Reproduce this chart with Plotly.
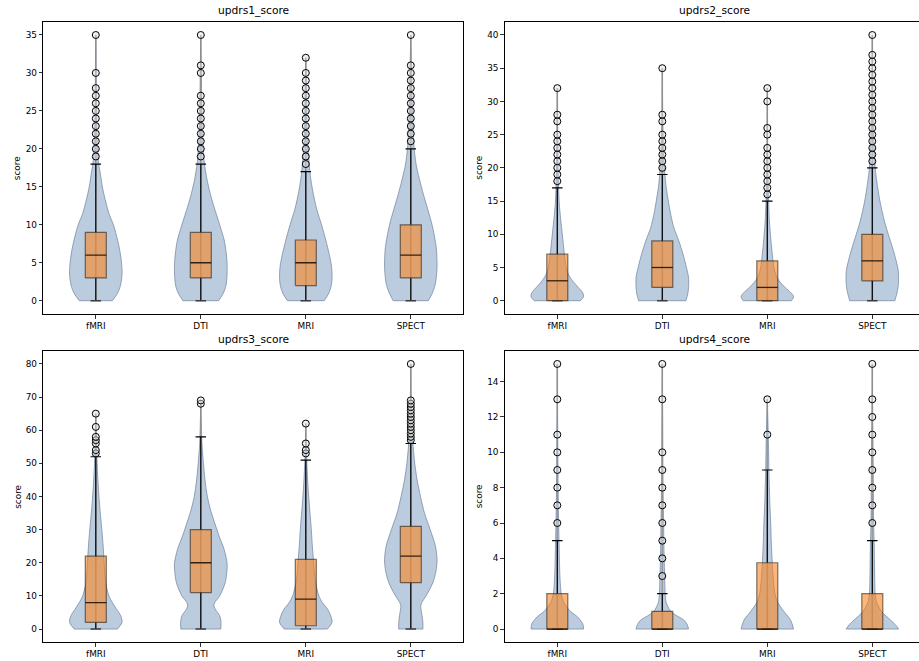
import plotly.graph_objects as go

# ---------------- data ----------------
MODALITIES = ["fMRI", "DTI", "MRI", "SPECT"]
SCORES = ["updrs1_score", "updrs2_score", "updrs3_score", "updrs4_score"]
POSITIONS = [1, 2, 3, 4]

# box statistics per modality (fMRI, DTI, MRI, SPECT)
updrs1_q1 = [3, 3, 2, 3]
updrs1_med = [6, 5, 5, 6]
updrs1_q3 = [9, 9, 8, 10]
updrs1_lo = [0, 0, 0, 0]
updrs1_hi = [18, 18, 17, 20]
updrs1_out = [
    [19, 20, 21, 22, 23, 24, 25, 26, 27, 28, 30, 35],
    [19, 20, 21, 22, 23, 24, 25, 26, 27, 30, 31, 35],
    [18, 19, 20, 21, 22, 23, 24, 25, 26, 27, 28, 29, 30, 32],
    [21, 22, 23, 24, 25, 26, 27, 28, 29, 30, 31, 35],
]

updrs2_q1 = [0, 2, 0, 3]
updrs2_med = [3, 5, 2, 6]
updrs2_q3 = [7, 9, 6, 10]
updrs2_lo = [0, 0, 0, 0]
updrs2_hi = [17, 19, 15, 20]
updrs2_out = [
    [18, 19, 20, 21, 22, 23, 24, 25, 27, 28, 32],
    [20, 21, 22, 23, 24, 25, 27, 28, 35],
    [16, 17, 18, 19, 20, 21, 22, 23, 25, 26, 30, 32],
    [21, 22, 23, 24, 25, 26, 27, 28, 29, 30, 31, 32, 33, 34, 35, 36, 37, 40],
]

updrs3_q1 = [2, 11, 1, 14]
updrs3_med = [8, 20, 9, 22]
updrs3_q3 = [22, 30, 21, 31]
updrs3_lo = [0, 0, 0, 0]
updrs3_hi = [52, 58, 51, 56]
updrs3_out = [
    [53, 54, 56, 57, 58, 61, 65],
    [68, 69],
    [53, 54, 56, 62],
    [57, 58, 59, 60, 61, 62, 63, 64, 65, 66, 67, 68, 69, 80],
]

updrs4_q1 = [0, 0, 0, 0]
updrs4_med = [0, 0, 0, 0]
updrs4_q3 = [2, 1, 3.75, 2]
updrs4_lo = [0, 0, 0, 0]
updrs4_hi = [5, 2, 9, 5]
updrs4_out = [
    [6, 7, 8, 9, 10, 11, 13, 15],
    [3, 4, 5, 6, 7, 8, 9, 10, 13, 15],
    [11, 13],
    [6, 7, 8, 9, 10, 11, 12, 13, 15],
]

# violin density profiles (relative width)
updrs1_kde_y = [
    [0, 1, 2, 3.5, 5, 6.5, 8, 10, 11.5, 13.3, 15, 16.8, 18, 20, 22, 25, 28, 31, 35],
    [0, 1, 2, 3.5, 5, 6.5, 8, 10, 12.4, 14.1, 15.9, 18, 20, 22, 25, 28, 31, 35],
    [0, 1, 2, 3, 4.5, 6, 8, 10, 12, 14, 16, 18, 20, 22, 25, 28, 32],
    [0, 1, 2, 3, 4.5, 6, 7, 8.5, 10, 12, 14, 16, 18, 20, 22, 25, 28, 31, 35],
]
updrs1_kde_w = [
    [0.63, 0.83, 0.94, 1.0, 0.98, 0.92, 0.83, 0.67, 0.5, 0.36, 0.25, 0.17, 0.11, 0.07, 0.045, 0.03, 0.02, 0.012, 0],
    [0.68, 0.86, 0.96, 1.0, 1.0, 0.96, 0.89, 0.72, 0.5, 0.36, 0.24, 0.14, 0.09, 0.06, 0.04, 0.028, 0.018, 0],
    [0.7, 0.88, 0.97, 1.0, 0.98, 0.9, 0.76, 0.6, 0.42, 0.29, 0.19, 0.13, 0.08, 0.05, 0.035, 0.025, 0],
    [0.67, 0.82, 0.92, 0.97, 1.0, 0.99, 0.97, 0.9, 0.81, 0.65, 0.48, 0.33, 0.2, 0.13, 0.09, 0.06, 0.04, 0.025, 0],
]

updrs2_kde_y = [
    [0, 0.6, 1.2, 2, 3, 4, 5, 7, 10, 13, 15, 17, 20, 25, 32],
    [0, 1, 2, 3.5, 5, 7, 9, 11, 13, 15, 17, 19, 22, 25, 28, 35],
    [0, 0.6, 1.2, 2, 3, 4, 5, 7, 9, 12, 15, 20, 25, 32],
    [0, 1, 2, 3, 4.5, 6, 8, 10, 12, 15, 18, 20, 25, 30, 35, 40],
]
updrs2_kde_w = [
    [0.88, 1.0, 0.97, 0.8, 0.58, 0.42, 0.34, 0.27, 0.19, 0.11, 0.07, 0.05, 0.03, 0.015, 0],
    [0.9, 0.97, 1.0, 1.0, 0.92, 0.79, 0.63, 0.44, 0.32, 0.23, 0.15, 0.1, 0.05, 0.03, 0.015, 0],
    [0.92, 1.0, 0.9, 0.68, 0.45, 0.32, 0.25, 0.19, 0.14, 0.08, 0.05, 0.02, 0.01, 0],
    [0.86, 0.93, 0.98, 1.0, 0.99, 0.91, 0.77, 0.61, 0.46, 0.29, 0.17, 0.11, 0.05, 0.025, 0.01, 0],
]

updrs3_kde_y = [
    [0, 2, 4, 6, 8, 10, 13, 16, 20, 25, 30, 35, 40, 45, 50, 55, 60, 65],
    [0, 2, 4, 6, 7, 8, 10, 14, 18, 20, 24, 28, 32, 36, 40, 45, 50, 55, 60, 65, 69],
    [0, 2, 4, 6, 8, 10, 13, 16, 20, 25, 30, 35, 40, 45, 50, 55, 62],
    [0, 2, 4, 6, 7, 8, 10, 14, 18, 21, 25, 30, 35, 40, 45, 50, 55, 60, 65, 70, 80],
]
updrs3_kde_w = [
    [0.82, 1.0, 0.95, 0.79, 0.63, 0.5, 0.4, 0.35, 0.32, 0.28, 0.23, 0.17, 0.12, 0.08, 0.05, 0.03, 0.015, 0],
    [0.76, 0.77, 0.72, 0.55, 0.5, 0.53, 0.72, 0.93, 1.0, 1.0, 0.89, 0.7, 0.53, 0.37, 0.25, 0.16, 0.1, 0.05, 0.025, 0.01, 0],
    [0.82, 1.0, 0.95, 0.83, 0.63, 0.5, 0.4, 0.34, 0.3, 0.25, 0.21, 0.16, 0.11, 0.07, 0.04, 0.02, 0],
    [0.46, 0.46, 0.43, 0.39, 0.38, 0.42, 0.58, 0.84, 0.97, 1.0, 0.94, 0.74, 0.52, 0.37, 0.24, 0.15, 0.09, 0.05, 0.03, 0.015, 0],
]

updrs4_kde_y = [
    [0, 0.3, 0.7, 1, 1.5, 2, 3, 4, 5, 6, 8, 10, 12, 15],
    [0, 0.25, 0.5, 0.8, 1, 1.5, 2, 3, 4, 6, 8, 10, 13, 15],
    [0, 0.5, 1, 1.5, 2, 3, 4, 5, 6, 7, 8, 9, 10, 11, 13],
    [0, 0.25, 0.5, 1, 1.5, 2, 3, 4, 5, 6, 8, 10, 12, 15],
]
updrs4_kde_w = [
    [1.0, 0.97, 0.76, 0.5, 0.25, 0.15, 0.1, 0.08, 0.065, 0.05, 0.03, 0.02, 0.01, 0],
    [1.0, 0.95, 0.83, 0.5, 0.32, 0.15, 0.11, 0.09, 0.07, 0.05, 0.03, 0.02, 0.01, 0],
    [1.0, 0.89, 0.63, 0.4, 0.29, 0.22, 0.18, 0.15, 0.13, 0.1, 0.08, 0.06, 0.05, 0.035, 0],
    [1.0, 0.88, 0.7, 0.35, 0.17, 0.11, 0.09, 0.08, 0.07, 0.05, 0.04, 0.03, 0.015, 0],
]

Y_DTICK = [5, 5, 10, 2]
Y_MAX = [35, 40, 80, 15]

PANELS = [
    (updrs1_q1, updrs1_med, updrs1_q3, updrs1_lo, updrs1_hi, updrs1_out, updrs1_kde_y, updrs1_kde_w),
    (updrs2_q1, updrs2_med, updrs2_q3, updrs2_lo, updrs2_hi, updrs2_out, updrs2_kde_y, updrs2_kde_w),
    (updrs3_q1, updrs3_med, updrs3_q3, updrs3_lo, updrs3_hi, updrs3_out, updrs3_kde_y, updrs3_kde_w),
    (updrs4_q1, updrs4_med, updrs4_q3, updrs4_lo, updrs4_hi, updrs4_out, updrs4_kde_y, updrs4_kde_w),
]

# ---------------- layout geometry ----------------
W, H = 919, 661
PX_PER_UNIT = 105.0
LEFT_X = (43.3, 463.3)
RIGHT_X = (504.8, 919.0)
TOP_Y = (21.7, 314.0)
BOT_Y = (350.7, 642.3)

VIOLIN_HALF = 0.25
BOX_HALF = 0.1
CAP_HALF = 0.05
VIOLIN_FILL = "rgba(176,195,217,0.85)"
VIOLIN_EDGE = "rgba(110,130,155,0.7)"
BOX_FILL = "rgba(250,130,25,0.58)"
FONT = "DejaVu Sans"
TICK_SIZE = 8.9
TITLE_SIZE = 10.7

fig = go.Figure()
annotations = []


def add_line(xs, ys, xa, ya, color, width):
    fig.add_trace(go.Scatter(x=xs, y=ys, mode="lines", line=dict(color=color, width=width),
                             xaxis=xa, yaxis=ya, showlegend=False, hoverinfo="skip"))


for i, (q1, med, q3, lo, hi, outs, ky, kw) in enumerate(PANELS):
    row, col = divmod(i, 2)
    xpx = LEFT_X if col == 0 else RIGHT_X
    ypx = TOP_Y if row == 0 else BOT_Y
    xdom = [xpx[0] / W, xpx[1] / W]
    ydom = [1 - ypx[1] / H, 1 - ypx[0] / H]
    n = i + 1
    xa = "x" if n == 1 else f"x{n}"
    ya = "y" if n == 1 else f"y{n}"
    xr = [0.5, 0.5 + (xpx[1] - xpx[0]) / PX_PER_UNIT]
    ymax = Y_MAX[i]
    yr = [-0.05 * ymax, 1.05 * ymax]

    # violins: left edge, then right edge filled to it
    for j, pos in enumerate(POSITIONS):
        ys = ky[j]
        ws = kw[j]
        fig.add_trace(go.Scatter(
            x=[pos - VIOLIN_HALF * w for w in ws], y=ys, mode="lines",
            line=dict(color=VIOLIN_EDGE, width=1, shape="spline", smoothing=0.8),
            xaxis=xa, yaxis=ya, showlegend=False, hoverinfo="skip"))
        fig.add_trace(go.Scatter(
            x=[pos + VIOLIN_HALF * w for w in ws], y=ys, mode="lines",
            fill="tonextx", fillcolor=VIOLIN_FILL,
            line=dict(color=VIOLIN_EDGE, width=1, shape="spline", smoothing=0.8),
            xaxis=xa, yaxis=ya, showlegend=False, hoverinfo="skip"))
        add_line([pos - VIOLIN_HALF * ws[0], pos + VIOLIN_HALF * ws[0]], [ys[0], ys[0]],
                 xa, ya, VIOLIN_EDGE, 1)

    # extrema bars
    for j, pos in enumerate(POSITIONS):
        top = max([hi[j]] + outs[j])
        add_line([pos, pos], [lo[j], top], xa, ya, "rgba(140,140,140,0.8)", 1.5)

    # boxes drawn with the library's scatter marks
    for j, pos in enumerate(POSITIONS):
        add_line([pos, pos], [q3[j], hi[j]], xa, ya, "black", 1.2)
        add_line([pos, pos], [lo[j], q1[j]], xa, ya, "black", 1.2)
        add_line([pos - CAP_HALF, pos + CAP_HALF], [hi[j], hi[j]], xa, ya, "black", 1.2)
        add_line([pos - CAP_HALF, pos + CAP_HALF], [lo[j], lo[j]], xa, ya, "rgba(60,60,60,1)", 1.5)
        fig.add_trace(go.Scatter(
            x=[pos - BOX_HALF, pos + BOX_HALF, pos + BOX_HALF, pos - BOX_HALF, pos - BOX_HALF],
            y=[q1[j], q1[j], q3[j], q3[j], q1[j]],
            mode="lines", fill="toself", fillcolor=BOX_FILL,
            line=dict(color="rgba(40,30,20,0.6)", width=1.2),
            xaxis=xa, yaxis=ya, showlegend=False, hoverinfo="skip"))
        add_line([pos - BOX_HALF, pos + BOX_HALF], [med[j], med[j]], xa, ya, "rgba(20,10,0,0.85)", 1.3)

    # outliers
    ox, oy = [], []
    for j, pos in enumerate(POSITIONS):
        ox += [pos] * len(outs[j])
        oy += outs[j]
    fig.add_trace(go.Scatter(
        x=ox, y=oy, mode="markers",
        marker=dict(symbol="circle", size=7, color="rgba(225,225,225,0.45)",
                    line=dict(color="black", width=1)),
        xaxis=xa, yaxis=ya, showlegend=False, hoverinfo="skip"))

    axis_common = dict(showline=True, mirror=True, linecolor="black", linewidth=1,
                       ticks="outside", ticklen=3.5, tickwidth=0.8, tickcolor="black",
                       showgrid=False, zeroline=False,
                       tickfont=dict(family=FONT, size=TICK_SIZE, color="black"))
    fig.layout[f"xaxis{'' if n == 1 else n}"] = dict(
        domain=xdom, range=xr, anchor=ya, tickmode="array",
        tickvals=POSITIONS, ticktext=MODALITIES, **axis_common)
    fig.layout[f"yaxis{'' if n == 1 else n}"] = dict(
        domain=ydom, range=yr, anchor=xa, dtick=Y_DTICK[i], tick0=0, **axis_common)

    annotations.append(dict(
        text=SCORES[i], x=(xpx[0] + xpx[0] + 4 * PX_PER_UNIT) / 2 / W,
        y=1 - (ypx[0] - 2.5) / H, xref="paper", yref="paper",
        xanchor="center", yanchor="bottom", showarrow=False,
        font=dict(family=FONT, size=TITLE_SIZE, color="black")))
    annotations.append(dict(
        text="score", x=(xpx[0] - 26) / W, y=(ydom[0] + ydom[1]) / 2,
        xref="paper", yref="paper", xanchor="center", yanchor="middle",
        textangle=-90, showarrow=False,
        font=dict(family=FONT, size=TICK_SIZE, color="black")))

fig.update_layout(
    width=W, height=H, margin=dict(l=0, r=0, t=0, b=0),
    paper_bgcolor="white", plot_bgcolor="white",
    annotations=annotations, hovermode=False,
    font=dict(family=FONT, size=TICK_SIZE, color="black"))

fig.write_html("out.html", config={"displayModeBar": False, "staticPlot": True},
               post_script="document.body.style.margin='0';document.body.style.overflow='hidden';")
